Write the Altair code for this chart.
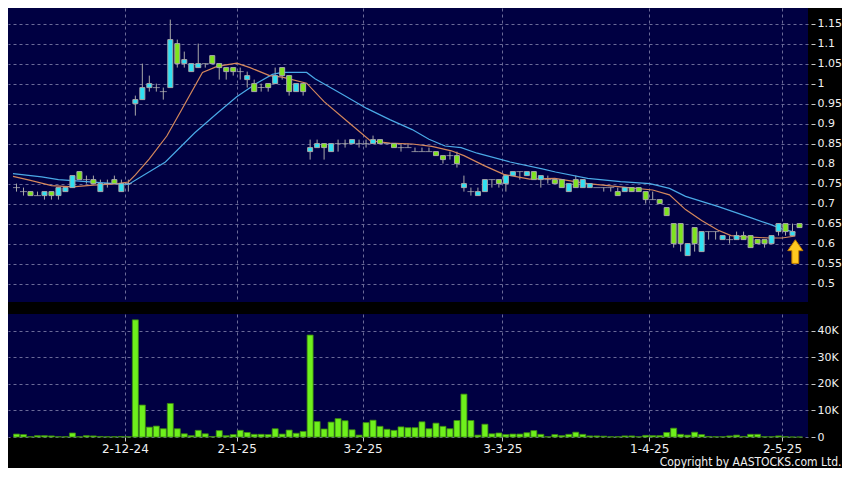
import altair as alt
import pandas as pd

# ---- candle data (index = trading day) ----
opens = [0.74,0.73,0.73,0.72,0.72,0.73,0.72,0.73,0.74,0.78,
         0.76,0.76,0.73,0.75,0.76,0.73,0.75,0.95,0.96,0.99,
         0.99,0.98,0.99,1.10,1.05,1.03,1.04,1.05,1.07,1.05,
         1.04,1.04,1.03,1.01,1.00,0.99,1.00,1.00,1.04,1.02,
         0.98,1.00,0.83,0.84,0.85,0.83,0.85,0.85,0.85,0.85,
         0.85,0.85,0.86,0.85,0.85,0.84,0.84,0.83,0.83,0.83,
         0.83,0.82,0.82,0.82,0.74,0.73,0.72,0.73,0.76,0.76,
         0.75,0.77,0.78,0.77,0.78,0.76,0.76,0.76,0.76,0.73,
         0.76,0.74,0.74,0.74,0.74,0.74,0.73,0.73,0.74,0.74,
         0.73,0.71,0.71,0.69,0.65,0.65,0.57,0.64,0.58,0.63,
         0.63,0.61,0.61,0.61,0.62,0.62,0.61,0.61,0.60,0.63,
         0.65,0.62,0.65]
highs = [0.75,0.74,0.73,0.73,0.73,0.73,0.74,0.74,0.77,0.78,
         0.77,0.77,0.76,0.76,0.77,0.76,0.76,0.97,1.05,1.02,
         1.00,0.99,1.16,1.11,1.08,1.05,1.10,1.05,1.07,1.05,
         1.04,1.04,1.04,1.03,1.01,1.00,1.00,1.04,1.04,1.02,
         1.00,1.00,0.86,0.86,0.85,0.85,0.86,0.86,0.86,0.86,
         0.86,0.87,0.86,0.85,0.85,0.85,0.85,0.84,0.84,0.84,
         0.83,0.82,0.83,0.83,0.77,0.74,0.74,0.76,0.76,0.76,
         0.77,0.78,0.78,0.78,0.78,0.77,0.77,0.76,0.76,0.75,
         0.77,0.76,0.75,0.74,0.74,0.74,0.74,0.74,0.74,0.74,
         0.73,0.73,0.71,0.69,0.65,0.65,0.60,0.64,0.63,0.63,
         0.63,0.62,0.62,0.63,0.63,0.62,0.61,0.61,0.62,0.65,
         0.65,0.65,0.65]
lows = [0.73,0.72,0.72,0.72,0.71,0.71,0.71,0.73,0.74,0.76,
        0.75,0.75,0.73,0.74,0.75,0.73,0.73,0.92,0.96,0.98,
        0.98,0.96,0.99,1.04,1.04,1.03,1.04,1.04,1.05,1.01,
        1.01,1.02,1.01,0.99,0.98,0.98,0.98,1.00,1.01,0.97,
        0.98,0.97,0.81,0.84,0.81,0.83,0.83,0.84,0.85,0.84,
        0.84,0.85,0.85,0.85,0.84,0.83,0.84,0.83,0.83,0.83,
        0.82,0.80,0.81,0.79,0.73,0.72,0.72,0.73,0.74,0.74,
        0.73,0.77,0.76,0.77,0.76,0.74,0.75,0.75,0.74,0.73,
        0.74,0.74,0.74,0.74,0.73,0.73,0.72,0.73,0.73,0.73,
        0.70,0.71,0.70,0.67,0.59,0.58,0.57,0.58,0.58,0.61,
        0.61,0.61,0.60,0.61,0.61,0.59,0.60,0.59,0.60,0.62,
        0.62,0.62,0.64]
closes = [0.74,0.73,0.72,0.72,0.73,0.72,0.74,0.74,0.77,0.76,
          0.76,0.75,0.75,0.75,0.75,0.75,0.75,0.96,0.99,1.00,
          0.99,0.98,1.11,1.05,1.06,1.05,1.05,1.05,1.05,1.04,
          1.03,1.03,1.03,1.02,0.98,0.99,0.99,1.02,1.02,0.98,
          1.00,0.98,0.84,0.85,0.84,0.85,0.85,0.85,0.86,0.85,
          0.85,0.86,0.85,0.85,0.84,0.84,0.84,0.83,0.83,0.83,
          0.82,0.81,0.82,0.80,0.75,0.73,0.73,0.76,0.76,0.75,
          0.77,0.78,0.78,0.78,0.76,0.77,0.76,0.75,0.74,0.75,
          0.74,0.76,0.75,0.74,0.74,0.74,0.72,0.74,0.73,0.73,
          0.71,0.71,0.70,0.67,0.60,0.60,0.60,0.60,0.63,0.63,
          0.63,0.62,0.61,0.62,0.61,0.59,0.60,0.60,0.62,0.65,
          0.63,0.63,0.64]
volumes = [1100,900,100,500,500,400,100,100,1500,100,
           500,400,200,100,100,200,100,44000,12000,3700,
           4100,3100,12600,3100,1200,500,2500,1200,200,2400,
           500,900,2500,1700,1000,1000,900,3100,1100,2600,
           1400,2100,38300,5800,3000,5600,6900,6100,2700,700,
           5400,6300,4000,2900,2500,3800,3500,3500,5700,3100,
           5200,4000,3100,6200,16100,6200,700,4800,1200,1500,
           900,1100,1100,1600,2400,1000,100,900,500,1000,
           1800,1000,400,400,300,100,100,400,400,100,
           600,500,500,1700,3300,1000,700,1800,900,200,
           100,100,400,700,200,1000,1000,100,100,400,
           100,0,0]

# ---- moving averages ----
ma10_idx = [-0.5,2,5,8,11,14,16,17,19,21.5,23.6,26.6,28.7,31.5,33.4,36.2,38,
            41.5,44,47.3,50.6,53.4,56.6,59.4,62.2,64,66.9,69.7,73.4,77,81.7,
            86.4,91,93.4,95.7,98,100.3,102.2,105,107.8,109.5,111.4]
ma10_val = [0.768,0.758,0.745,0.742,0.746,0.749,0.754,0.772,0.812,0.869,0.934,
            1.028,1.043,1.051,1.040,1.020,1.016,1.001,0.955,0.906,0.857,0.851,
            0.849,0.843,0.832,0.820,0.795,0.773,0.761,0.763,0.750,0.742,0.734,
            0.722,0.685,0.658,0.634,0.620,0.616,0.614,0.614,0.619]
ma20_idx = [-0.5,3.6,6,10,13,16,21.3,25.5,28.7,31.5,34.3,36.6,38,41.5,42.7,
            46.4,50.1,53.4,56.6,59,61.3,63.6,65.9,70.6,75.2,77.1,81.7,86.4,
            90.6,93.4,95.7,100.3,105,107.8,109.6,111.4]
ma20_val = [0.775,0.767,0.760,0.755,0.751,0.748,0.804,0.877,0.926,0.967,1.000,
            1.023,1.028,1.028,1.012,0.975,0.938,0.910,0.885,0.861,0.844,0.840,
            0.826,0.804,0.787,0.779,0.763,0.755,0.750,0.738,0.718,0.693,0.665,
            0.648,0.636,0.628]

# ---- axes ----
tick_idx = [15.5, 31.5, 49.5, 69.5, 90.5, 109.5]
tick_labels = ["2-12-24", "2-1-25", "3-2-25", "3-3-25", "1-4-25", "2-5-25"]
price_ticks = [0.5, 0.55, 0.6, 0.65, 0.7, 0.75, 0.8, 0.85, 0.9, 0.95, 1.0, 1.05, 1.1, 1.15]
vol_ticks = [0, 10000, 20000, 30000, 40000]
arrow_idx = [111.4]
arrow_price = [0.58]

n = len(opens)
df = pd.DataFrame({"i": list(range(n)), "o": opens, "h": highs, "l": lows,
                   "c": closes, "v": volumes})
df["dir"] = ["up" if c > o else ("down" if c < o else "flat")
             for o, c in zip(opens, closes)]
ma10 = pd.DataFrame({"i": ma10_idx, "m": ma10_val})
ma20 = pd.DataFrame({"i": ma20_idx, "m": ma20_val})
arrow = pd.DataFrame({"i": arrow_idx, "p": arrow_price})

W = 800
xscale = alt.Scale(domain=[-0.5, n - 0.5], nice=False, zero=False)
yscale = alt.Scale(domain=[0.454, 1.189], nice=False, zero=False)
GRID = "#6a6a98"
labels_js = "[" + ",".join("'%s'" % s for s in tick_labels) + "]"
vals_js = "[" + ",".join(str(v) for v in tick_idx) + "]"

xax_price = alt.Axis(values=tick_idx, grid=True, labels=False, ticks=False,
                     domain=False, title=None)
yax_price = alt.Axis(orient="right", values=price_ticks, format=".2~f",
                     grid=True, domain=False, offset=3, tickSize=4,
                     labelPadding=2, title=None)


def px(field="i"):
    return alt.X(field + ":Q", scale=xscale, axis=xax_price)


def py(field):
    return alt.Y(field + ":Q", scale=yscale, axis=yax_price)


base = alt.Chart(df)

wicks = base.mark_rule(color="#a8a8a8", strokeWidth=1, clip=True).encode(
    x=px(), y=py("l"), y2="h:Q",
)
bodies = base.transform_filter("datum.dir != 'flat'").mark_bar(
    size=5, stroke="#a8a8a8", strokeWidth=1, clip=True
).encode(
    x=px(), y=py("o"), y2="c:Q",
    color=alt.Color("dir:N", scale=alt.Scale(domain=["up", "down"],
                                             range=["#2fe0f2", "#7ee41e"]),
                    legend=None),
)
dojis = base.transform_filter("datum.dir == 'flat'").mark_tick(
    orient="horizontal", size=7, thickness=1, color="#b8b8b8", clip=True
).encode(x=px(), y=py("c"))
line10 = alt.Chart(ma10).mark_line(color="#d4875c", strokeWidth=1.2, clip=True).encode(
    x=px(), y=py("m"))
line20 = alt.Chart(ma20).mark_line(color="#4aa9e6", strokeWidth=1.2, clip=True).encode(
    x=px(), y=py("m"))
arrow_path = "M0,-1 L0.64,-0.08 L0.29,-0.08 L0.29,1 L-0.29,1 L-0.29,-0.08 L-0.64,-0.08 Z"
arrow_mark = alt.Chart(arrow).mark_point(
    shape=arrow_path, size=560, filled=True, fill="#ffc820", stroke="#c07c00",
    strokeWidth=1, opacity=1
).encode(x=px(), y=py("p"))

price = alt.layer(wicks, line20, line10, bodies, dojis, arrow_mark).properties(
    width=W, height=294)

volume = alt.Chart(df).mark_bar(size=6, color="#6ef01c", stroke="#3d8a10",
                                strokeWidth=0.8).encode(
    x=alt.X("i:Q", scale=xscale,
            axis=alt.Axis(values=tick_idx, grid=True, domain=False, ticks=True,
                          tickSize=4, labelPadding=2, title=None,
                          labelFontSize=12,
                          labelExpr=labels_js + "[indexof(" + vals_js + ", datum.value)]")),
    y=alt.Y("v:Q", scale=alt.Scale(domain=[0, 46200], nice=False),
            axis=alt.Axis(orient="right", values=vol_ticks, grid=True, domain=False,
                          offset=3, tickSize=4, labelPadding=2, title=None,
                          labelExpr="datum.value == 0 ? '0' : (datum.value / 1000) + 'K'")),
).properties(width=W, height=123)

chart = alt.vconcat(price, volume, spacing=12).properties(
    padding=0,
    title=alt.Title("Copyright by AASTOCKS.com Ltd.", orient="bottom", anchor="end",
                    fontSize=12, fontWeight="normal", color="#f0f0f0",
                    font="DejaVu Sans Condensed, DejaVu Sans", offset=3),
).configure(background="#000000").configure_view(
    fill="#000042", stroke=None
).configure_axis(
    labelColor="#f0f0f0", labelFont="DejaVu Sans", labelFontSize=11,
    gridColor=GRID, gridDash=[3, 3], gridWidth=1, tickColor="#c8c8c8",
)

chart.save("out.html", embed_options={"renderer": "svg", "actions": False})
